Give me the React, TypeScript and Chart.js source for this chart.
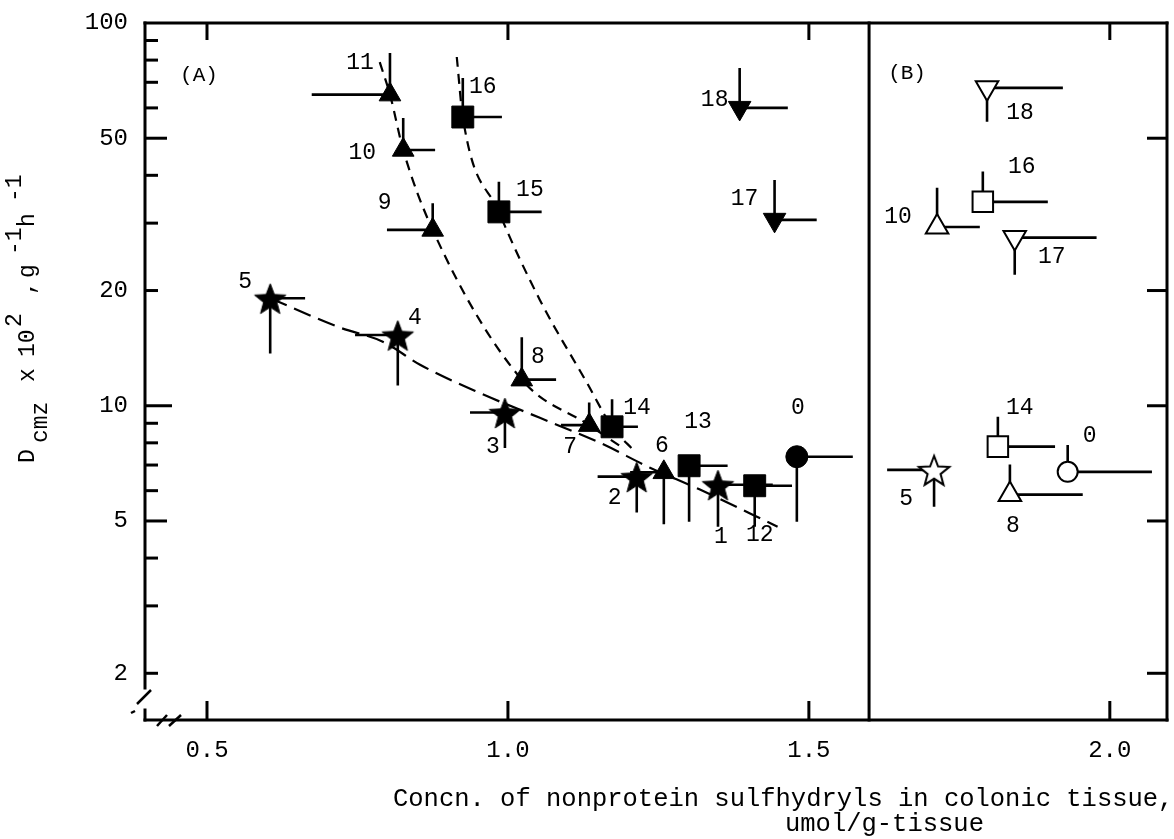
import React, { useEffect, useRef } from "react";
import { Chart, registerables } from "chart.js";

Chart.register(...registerables);

// ---------- axis ranges & ticks ----------
const xMin = 0.397;
const xMax = 2.095;
const yMin = 1.51;
const yMax = 100;
const panelDividerX = 1.6;
const xTickValues = [0.5, 1.0, 1.5, 2.0];
const yTickValues = [2, 5, 10, 20, 50, 100];
const yMinorTickValues = [3, 4, 6, 7, 8, 9, 30, 40, 60, 70, 80, 90];
const yRightTickValues = [2, 5, 10, 20, 50];

// ---------- Panel (A): filled symbols (x, y, end of horizontal bar, end of vertical bar) ----------
const triALabels = ["11", "10", "9", "8", "7", "6"];
const triAX = [0.804, 0.826, 0.875, 1.023, 1.135, 1.259];
const triAY = [65, 46.6, 28.8, 11.7, 8.9, 6.7];
const triAXEnd = [0.674, 0.879, 0.799, 1.08, 1.088, 1.203];
const triAYEnd = [83.5, 56.5, 33.8, 15.1, 10.2, 4.9];

const starALabels = ["5", "4", "3", "2", "1"];
const starAX = [0.605, 0.817, 0.995, 1.214, 1.349];
const starAY = [19.1, 15.3, 9.6, 6.53, 6.22];
const starAXEnd = [0.663, 0.746, 0.937, 1.149, 1.44];
const starAYEnd = [13.7, 11.3, 7.76, 5.26, 4.83];

const squareALabels = ["16", "15", "14", "13", "12"];
const squareAX = [0.925, 0.985, 1.173, 1.301, 1.41];
const squareAY = [56.8, 32.1, 8.81, 6.97, 6.18];
const squareAXEnd = [0.99, 1.056, 1.216, 1.365, 1.472];
const squareAYEnd = [71.8, 38.5, 10.4, 4.98, 4.83];

const circleALabels = ["0"];
const circleAX = [1.48];
const circleAY = [7.36];
const circleAXEnd = [1.573];
const circleAYEnd = [4.98];

const downTriALabels = ["18", "17"];
const downTriAX = [1.385, 1.443];
const downTriAY = [60, 30.6];
const downTriAXEnd = [1.465, 1.513];
const downTriAYEnd = [76.3, 38.9];

// ---------- Panel (B): open symbols ----------
const triBLabels = ["10", "8"];
const triBX = [1.713, 1.834];
const triBY = [29.3, 5.86];
const triBXEnd = [1.784, 1.955];
const triBYEnd = [37.1, 7.02];

const downTriBLabels = ["18", "17"];
const downTriBX = [1.796, 1.842];
const downTriBY = [67.7, 27.5];
const downTriBXEnd = [1.922, 1.978];
const downTriBYEnd = [55.2, 22.0];

const squareBLabels = ["16", "14"];
const squareBX = [1.789, 1.814];
const squareBY = [34.1, 7.82];
const squareBXEnd = [1.897, 1.909];
const squareBYEnd = [40.9, 9.36];

const starBLabels = ["5"];
const starBX = [1.708];
const starBY = [6.8];
const starBXEnd = [1.63];
const starBYEnd = [5.45];

const circleBLabels = ["0"];
const circleBX = [1.93];
const circleBY = [6.72];
const circleBXEnd = [2.07];
const circleBYEnd = [7.9];

// ---------- dashed trend curves ----------
const triCurveX = [0.787, 0.804, 0.826, 0.875, 1.023, 1.135, 1.194];
const triCurveY = [79, 65, 46.6, 28.8, 11.7, 8.9, 7.7];
const squareCurveX = [0.915, 0.925, 0.985, 1.053, 1.131, 1.173, 1.211];
const squareCurveY = [81.5, 56.8, 32.1, 18.9, 11.5, 8.81, 7.59];
const starCurveX = [0.605, 0.721, 0.792, 0.854, 0.953, 1.053, 1.153, 1.236, 1.319, 1.448];
const starCurveY = [19.1, 16.0, 14.7, 12.8, 10.8, 9.3, 8.0, 6.89, 6.04, 4.83];

// ---------- label placement (pixels relative to the marker) ----------
const triALabelOffsets = [[-30, -32], [-41, 3], [-48, -27], [16, -23], [-19, 22], [-2, -26]];
const starALabelOffsets = [[-25, -16], [17, -17], [-12, 34], [-22, 21], [3, 52]];
const squareALabelOffsets = [[20, -30], [31, -22], [25, -19], [9, -44], [5, 49]];
const circleALabelOffsets = [[1, -49]];
const downTriALabelOffsets = [[-25, -8], [-30, -21]];
const triBLabelOffsets = [[-39, -10], [3, 31]];
const downTriBLabelOffsets = [[33, 25], [37, 19]];
const squareBLabelOffsets = [[39, -35], [22, -39]];
const starBLabelOffsets = [[-28, 29]];
const circleBLabelOffsets = [[22, -36]];

const FONT = "'Liberation Mono', 'DejaVu Sans Mono', monospace";
const BLACK = "#000";

function markerData(xs: number[], ys: number[], xe: number[], ye: number[], labels: string[], offs: number[][]) {
  return xs.map((x, i) => ({ x, y: ys[i], xe: xe[i], ye: ye[i], lbl: labels[i], off: offs[i] }));
}

function curveData(xs: number[], ys: number[]) {
  return xs.map((x, i) => ({ x, y: ys[i] }));
}

function makeStar(outer: number, inner: number, filled: boolean): HTMLCanvasElement {
  const size = Math.ceil(outer * 2 + 6);
  const c = document.createElement("canvas");
  c.width = size;
  c.height = size;
  const g = c.getContext("2d")!;
  g.beginPath();
  for (let i = 0; i < 10; i++) {
    const r = i % 2 ? inner : outer;
    const a = -Math.PI / 2 + (i * Math.PI) / 5;
    g.lineTo(size / 2 + r * Math.cos(a), size / 2 + 2 + r * Math.sin(a));
  }
  g.closePath();
  if (filled) {
    g.fillStyle = BLACK;
    g.fill();
    g.lineWidth = 1;
    g.strokeStyle = BLACK;
    g.stroke();
  } else {
    g.fillStyle = "#fff";
    g.fill();
    g.lineWidth = 2;
    g.strokeStyle = BLACK;
    g.stroke();
  }
  return c;
}

const zeroPadding = (s: any) => {
  s.paddingTop = 0;
  s.paddingBottom = 0;
  s.paddingLeft = 0;
  s.paddingRight = 0;
};

const decorPlugin = {
  id: "decor",
  beforeDatasetsDraw(chart: any) {
    const { ctx, scales } = chart;
    const x = scales.x;
    const y = scales.y;
    ctx.save();
    ctx.strokeStyle = BLACK;
    ctx.lineWidth = 2.6;
    ctx.lineCap = "butt";
    chart.data.datasets.forEach((ds: any) => {
      if (!ds.errorBars) return;
      ds.data.forEach((p: any) => {
        const px = x.getPixelForValue(p.x);
        const py = y.getPixelForValue(p.y);
        ctx.beginPath();
        ctx.moveTo(px, py);
        ctx.lineTo(x.getPixelForValue(p.xe), py);
        ctx.moveTo(px, py);
        ctx.lineTo(px, y.getPixelForValue(p.ye));
        ctx.stroke();
      });
    });
    ctx.restore();
  },
  afterDraw(chart: any) {
    const { ctx, chartArea, scales } = chart;
    const { left, right, top, bottom } = chartArea;
    const x = scales.x;
    const y = scales.y;
    const line = (x1: number, y1: number, x2: number, y2: number) => {
      ctx.beginPath();
      ctx.moveTo(x1, y1);
      ctx.lineTo(x2, y2);
      ctx.stroke();
    };
    ctx.save();
    ctx.strokeStyle = BLACK;
    ctx.lineCap = "square";
    ctx.lineWidth = 3;
    // frame
    line(left, top, right, top);
    line(right, top, right, bottom);
    line(left, bottom, right, bottom);
    line(left, top, left, bottom - 32);
    line(left, bottom - 10, left, bottom);
    // divider between panels
    const dx = x.getPixelForValue(panelDividerX);
    line(dx, top, dx, bottom);
    // axis break marks
    ctx.lineCap = "butt";
    ctx.lineWidth = 2.5;
    line(left - 8, bottom - 16, left + 6, bottom - 30);
    line(left - 14, bottom - 7, left - 10, bottom - 9);
    line(left + 12, bottom + 6, left + 22, bottom - 5);
    line(left + 24, bottom + 6, left + 36, bottom - 5);
    // tick marks (inward)
    ctx.lineWidth = 3;
    yTickValues.forEach((v) => {
      if (v === yMax) return;
      const py = y.getPixelForValue(v);
      const len = v === 10 ? 27 : v === 5 || v === 50 ? 22 : 13;
      line(left, py, left + len, py);
    });
    yMinorTickValues.forEach((v) => {
      const py = y.getPixelForValue(v);
      line(left, py, left + 13, py);
    });
    yRightTickValues.forEach((v) => {
      const py = y.getPixelForValue(v);
      line(right - 20, py, right, py);
    });
    xTickValues.forEach((v) => {
      const px = x.getPixelForValue(v);
      line(px, top, px, top + 17);
      line(px, bottom - 19, px, bottom);
    });

    // point labels
    ctx.fillStyle = BLACK;
    ctx.textAlign = "center";
    ctx.textBaseline = "middle";
    ctx.font = `23px ${FONT}`;
    chart.data.datasets.forEach((ds: any) => {
      if (!ds.errorBars) return;
      ds.data.forEach((p: any) => {
        const px = x.getPixelForValue(p.x);
        const py = y.getPixelForValue(p.y);
        ctx.fillText(p.lbl, px + p.off[0], py + p.off[1]);
      });
    });

    // panel labels
    ctx.font = `21px ${FONT}`;
    ctx.fillText("(A)", left + 54, top + 52);
    ctx.fillText("(B)", dx + 38, top + 50);

    // x-axis title (typewriter, two lines)
    ctx.textAlign = "left";
    ctx.font = `25.5px ${FONT}`;
    ctx.fillText("Concn. of nonprotein sulfhydryls in colonic tissue,", 393, 799);
    ctx.fillText("umol/g-tissue", 785, 824);

    // y-axis title with sub/superscripts
    ctx.save();
    ctx.translate(34, 463);
    ctx.rotate(-Math.PI / 2);
    ctx.textAlign = "left";
    ctx.textBaseline = "alphabetic";
    ctx.font = `23px ${FONT}`;
    const segs: [string, number, number][] = [
      ["D", 0, 0],
      ["cmz", 20, 13],
      ["x", 81, 0],
      ["10", 106, 0],
      ["2", 136, -13],
      [",", 168, 0],
      ["g", 185, 0],
      ["-1", 208, -13],
      ["h", 236, 0],
      ["-1", 261, -13],
    ];
    segs.forEach(([t, ox, oy]) => ctx.fillText(t, ox, oy));
    ctx.restore();

    ctx.restore();
  },
};

export default function App() {
  const ref = useRef<HTMLCanvasElement>(null);
  useEffect(() => {
    const starFilled = makeStar(16.5, 7, true);
    const starOpen = makeStar(16, 6.8, false);
    const filled = { pointBackgroundColor: BLACK, pointBorderColor: BLACK, pointBorderWidth: 1 };
    const open = { pointBackgroundColor: "#fff", pointBorderColor: BLACK, pointBorderWidth: 2 };
    const curve = {
      type: "line",
      borderColor: BLACK,
      borderWidth: 2.2,
      pointRadius: 0,
      fill: false,
      cubicInterpolationMode: "monotone",
      order: 5,
    };
    const chart = new Chart(ref.current!, {
      type: "scatter",
      data: {
        datasets: [
          { label: "A triangles", data: markerData(triAX, triAY, triAXEnd, triAYEnd, triALabels, triALabelOffsets), pointStyle: "triangle", pointRadius: 12.5, ...filled, errorBars: true, order: 0 },
          { label: "A stars", data: markerData(starAX, starAY, starAXEnd, starAYEnd, starALabels, starALabelOffsets), pointStyle: starFilled, pointRadius: 16, errorBars: true, order: 0 },
          { label: "A squares", data: markerData(squareAX, squareAY, squareAXEnd, squareAYEnd, squareALabels, squareALabelOffsets), pointStyle: "rect", pointRadius: 15.5, ...filled, errorBars: true, order: 0 },
          { label: "A circle", data: markerData(circleAX, circleAY, circleAXEnd, circleAYEnd, circleALabels, circleALabelOffsets), pointStyle: "circle", pointRadius: 11, ...filled, errorBars: true, order: 0 },
          { label: "A down triangles", data: markerData(downTriAX, downTriAY, downTriAXEnd, downTriAYEnd, downTriALabels, downTriALabelOffsets), pointStyle: "triangle", pointRotation: 180, pointRadius: 13, ...filled, errorBars: true, order: 0 },
          { label: "B triangles", data: markerData(triBX, triBY, triBXEnd, triBYEnd, triBLabels, triBLabelOffsets), pointStyle: "triangle", pointRadius: 13, ...open, errorBars: true, order: 0 },
          { label: "B down triangles", data: markerData(downTriBX, downTriBY, downTriBXEnd, downTriBYEnd, downTriBLabels, downTriBLabelOffsets), pointStyle: "triangle", pointRotation: 180, pointRadius: 13, ...open, errorBars: true, order: 0 },
          { label: "B squares", data: markerData(squareBX, squareBY, squareBXEnd, squareBYEnd, squareBLabels, squareBLabelOffsets), pointStyle: "rect", pointRadius: 14.5, ...open, errorBars: true, order: 0 },
          { label: "B star", data: markerData(starBX, starBY, starBXEnd, starBYEnd, starBLabels, starBLabelOffsets), pointStyle: starOpen, pointRadius: 16, errorBars: true, order: 0 },
          { label: "B circle", data: markerData(circleBX, circleBY, circleBXEnd, circleBYEnd, circleBLabels, circleBLabelOffsets), pointStyle: "circle", pointRadius: 10, ...open, errorBars: true, order: 0 },
          { label: "triangle curve", data: curveData(triCurveX, triCurveY), borderDash: [10, 7], ...curve },
          { label: "square curve", data: curveData(squareCurveX, squareCurveY), borderDash: [10, 7], ...curve },
          { label: "star curve", data: curveData(starCurveX, starCurveY), borderDash: [18, 8], ...curve },
        ] as any,
      },
      options: {
        responsive: false,
        animation: false,
        devicePixelRatio: 1,
        events: [],
        layout: { autoPadding: false, padding: { top: 23, right: 7, left: 0, bottom: 0 } },
        plugins: { legend: { display: false }, tooltip: { enabled: false }, title: { display: false } },
        scales: {
          x: {
            type: "linear",
            min: xMin,
            max: xMax,
            grid: { display: false, drawTicks: false },
            border: { display: false },
            ticks: {
              padding: 16,
              color: BLACK,
              autoSkip: false,
              maxRotation: 0,
              font: { family: FONT, size: 24 },
              callback: (v: any) => Number(v).toFixed(1),
            },
            afterBuildTicks: (s: any) => {
              s.ticks = xTickValues.map((v) => ({ value: v }));
            },
            afterFit: (s: any) => {
              s.height = 119;
              zeroPadding(s);
            },
          },
          y: {
            type: "logarithmic",
            min: yMin,
            max: yMax,
            grid: { display: false, drawTicks: false },
            border: { display: false },
            ticks: {
              padding: 17,
              color: BLACK,
              autoSkip: false,
              font: { family: FONT, size: 24 },
              callback: (v: any) => String(v),
            },
            afterBuildTicks: (s: any) => {
              s.ticks = yTickValues.map((v) => ({ value: v }));
            },
            afterFit: (s: any) => {
              s.width = 145;
              zeroPadding(s);
            },
          },
        },
      } as any,
      plugins: [decorPlugin],
    });
    return () => chart.destroy();
  }, []);
  return (
    <div style={{ position: "fixed", left: 0, top: 0, width: 1174, height: 839, background: "#fff" }}>
      <canvas ref={ref} width={1174} height={839} style={{ display: "block", width: 1174, height: 839 }} />
    </div>
  );
}
